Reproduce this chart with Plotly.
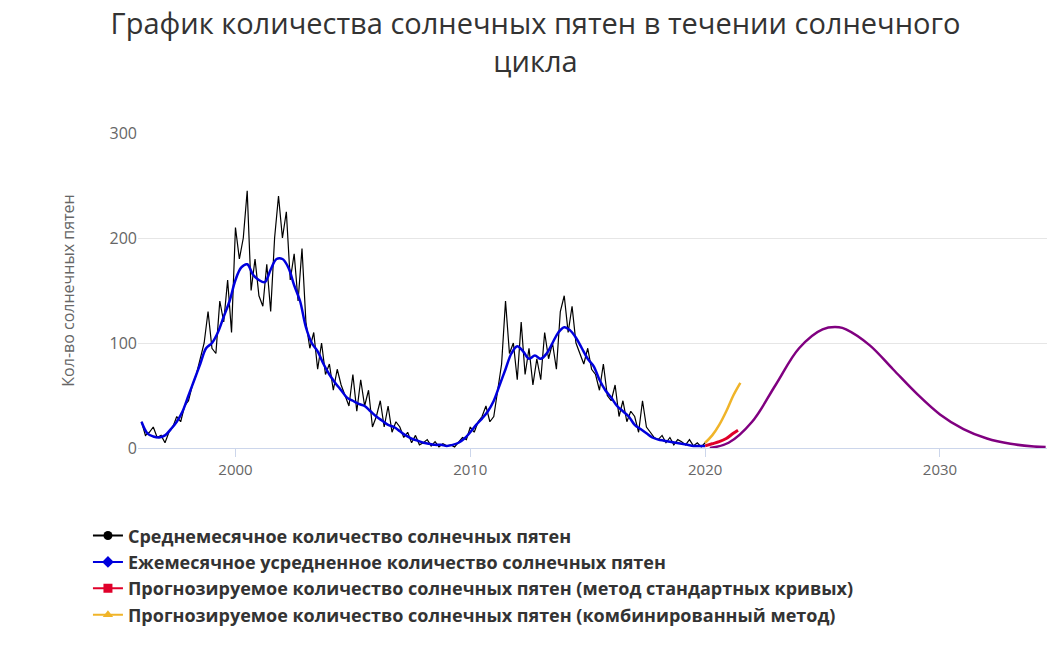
import plotly.graph_objects as go

# monthly sunspot number, sampled every 2 months, 1996.0 .. 2020.0
monthly_start = 1996.0
monthly_vals = [
    25, 12, 15, 20, 10, 12,
    5, 15, 20, 30, 25, 40,
    45, 60, 70, 85, 100, 130,
    95, 90, 140, 120, 160, 110,
    210, 180, 200, 245, 150, 180,
    145, 135, 175, 130, 200, 240,
    200, 225, 160, 185, 140, 190,
    120, 95, 110, 75, 100, 70,
    80, 55, 75, 60, 50, 40,
    70, 35, 65, 40, 55, 20,
    30, 45, 20, 40, 15, 25,
    20, 10, 15, 5, 12, 3,
    5, 8, 2, 6, 1, 4,
    2, 3, 1, 6, 10, 8,
    20, 15, 25, 30, 40, 25,
    30, 55, 80, 140, 90, 100,
    65, 120, 70, 95, 60, 85,
    65, 110, 85, 100, 75, 130,
    145, 110, 135, 100, 90, 80,
    95, 75, 70, 55, 80, 50,
    45, 60, 30, 45, 25, 35,
    30, 15, 45, 20, 15, 10,
    8, 12, 5, 10, 3, 8,
    6, 3, 8, 2, 5, 1,
    5,
]
# smoothed sunspot number, quarterly, 1996.0 .. 2020.0
smooth_vals = [
    25, 14, 11, 10,
    12, 18, 25, 35,
    50, 65, 80, 95,
    100, 110, 125, 140,
    160, 172, 175, 165,
    160, 158, 170, 180,
    180, 172, 155, 140,
    115, 100, 92, 80,
    70, 62, 55, 48,
    45, 42, 40, 35,
    30, 26, 22, 20,
    16, 12, 9, 7,
    5, 4, 3, 3,
    2, 3, 5, 9,
    15, 22, 28, 35,
    45, 60, 75, 90,
    97, 92, 85, 88,
    85, 90, 100, 110,
    115, 112, 105, 95,
    85, 78, 65, 55,
    48, 40, 35, 30,
    22, 18, 14, 10,
    8, 7, 6, 5,
    4, 3, 2, 2,
    2,
]
red_years = [2020.0, 2020.3, 2020.6, 2020.9, 2021.2, 2021.4]
red_vals = [2, 4, 6, 9, 14, 17]
yellow_years = [2020.0, 2020.3, 2020.6, 2020.9, 2021.2, 2021.5]
yellow_vals = [5, 12, 22, 35, 50, 62]
purple_years = [2020.2, 2021, 2022, 2023, 2024, 2025, 2025.7, 2026, 2027,
                2028, 2029, 2030, 2031, 2032, 2033, 2034, 2034.5]
purple_vals = [0, 5, 25, 60, 95, 113, 115, 113, 98, 75, 52, 32, 18, 9, 4, 1.5, 1]

names = [
    "Среднемесячное количество солнечных пятен",
    "Ежемесячное усредненное количество солнечных пятен",
    "Прогнозируемое количество солнечных пятен (метод стандартных кривых)",
    "Прогнозируемое количество солнечных пятен (комбинированный метод)",
]
colors = ["black", "#0000dd", "#e0002a", "#f0b429"]
symbols = ["circle", "diamond", "square", "triangle-up"]

monthly_years = [monthly_start + i / 6 for i in range(len(monthly_vals))]
smooth_years = [monthly_start + i / 4 for i in range(len(smooth_vals))]

fig = go.Figure()
fig.add_trace(go.Scatter(x=purple_years, y=purple_vals, mode="lines",
                         line=dict(color="#800080", width=2.5, shape="spline"),
                         showlegend=False))
fig.add_trace(go.Scatter(x=monthly_years, y=monthly_vals, mode="lines",
                         line=dict(color=colors[0], width=1.2), showlegend=False))
fig.add_trace(go.Scatter(x=smooth_years, y=smooth_vals, mode="lines",
                         line=dict(color=colors[1], width=2.5, shape="spline"),
                         showlegend=False))
fig.add_trace(go.Scatter(x=red_years, y=red_vals, mode="lines",
                         line=dict(color=colors[2], width=3, shape="spline"),
                         showlegend=False))
fig.add_trace(go.Scatter(x=yellow_years, y=yellow_vals, mode="lines",
                         line=dict(color=colors[3], width=2.5, shape="spline"),
                         showlegend=False))

# legend entries with line + marker symbols
for name, col, sym in zip(names, colors, symbols):
    fig.add_trace(go.Scatter(x=[None], y=[None], mode="lines+markers", name=name,
                             line=dict(color=col, width=2),
                             marker=dict(symbol=sym, size=9, color=col)))

fig.update_layout(
    width=1055, height=646,
    paper_bgcolor="white", plot_bgcolor="white",
    font=dict(family="Open Sans, DejaVu Sans", color="#333"),
    title=dict(text="График количества солнечных пятен в течении солнечного<br>цикла",
               x=0.5, y=0.96, yanchor="top", font=dict(size=29, color="#333")),
    margin=dict(l=130, r=15, t=125, b=206),
    xaxis=dict(range=[1995.85, 2034.6], tickvals=[2000, 2010, 2020, 2030],
               showgrid=False, zeroline=False, showline=True, linecolor="#ccd6eb",
               ticks="outside", tickcolor="#ccd6eb", ticklen=8,
               tickfont=dict(size=15, color="#666")),
    yaxis=dict(range=[0, 300], tickvals=[0, 100, 200, 300],
               gridcolor="#e6e6e6", zeroline=False,
               tickfont=dict(size=16, color="#666"),
               title=dict(text="Кол-во солнечных пятен", font=dict(size=16, color="#666"),
                          standoff=30)),
    legend=dict(x=-0.055, xanchor="left", y=-0.22, yanchor="top",
                font=dict(size=18, color="#333", weight="bold"), tracegroupgap=4,
                itemwidth=30),
)

fig.write_html("out.html")
